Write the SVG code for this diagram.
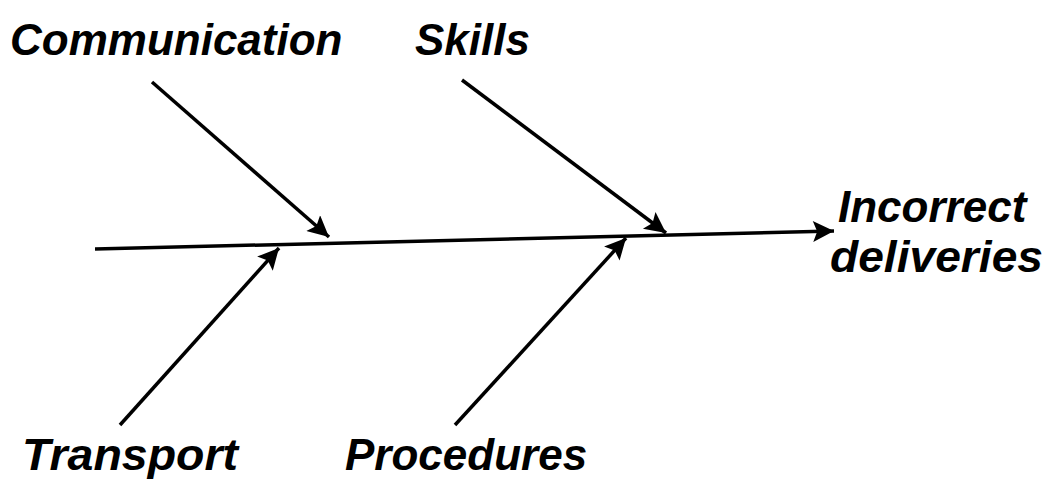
<svg xmlns="http://www.w3.org/2000/svg" width="1054" height="485" viewBox="0 0 1054 485">
<style>
.lbl{font-family:"Liberation Sans",Arial,sans-serif;font-weight:bold;font-style:italic;font-size:44px;fill:#000}
.ln{stroke:#000;stroke-width:3.5;fill:none;marker-end:url(#ah)}
</style>
<defs>
<marker id="ah" viewBox="0 0 10 10" refX="10" refY="5" markerWidth="8" markerHeight="6" markerUnits="strokeWidth" orient="auto">
<path d="M0,0 L10,5 L0,10 L2,5 Z" fill="#000"/>
</marker>
</defs>
<rect width="1054" height="485" fill="#fff"/>
<g id="connectors">
<line class="ln" x1="95" y1="249" x2="834" y2="231"/>
<line class="ln" x1="152" y1="82" x2="329" y2="237"/>
<line class="ln" x1="462" y1="80" x2="666" y2="233"/>
<line class="ln" x1="120" y1="425" x2="279" y2="248"/>
<line class="ln" x1="455" y1="425" x2="626" y2="238"/>
</g>
<g id="communication"><text class="lbl" x="10" y="55">Communication</text></g>
<g id="skills"><text class="lbl" x="415" y="55">Skills</text></g>
<g id="effect"><text class="lbl" x="838" y="222">Incorrect</text><text class="lbl" x="830" y="272" textLength="213" lengthAdjust="spacingAndGlyphs">deliveries</text></g>
<g id="transport"><text class="lbl" x="22" y="470" textLength="216" lengthAdjust="spacingAndGlyphs">Transport</text></g>
<g id="procedures"><text class="lbl" x="345" y="470">Procedures</text></g>
</svg>
